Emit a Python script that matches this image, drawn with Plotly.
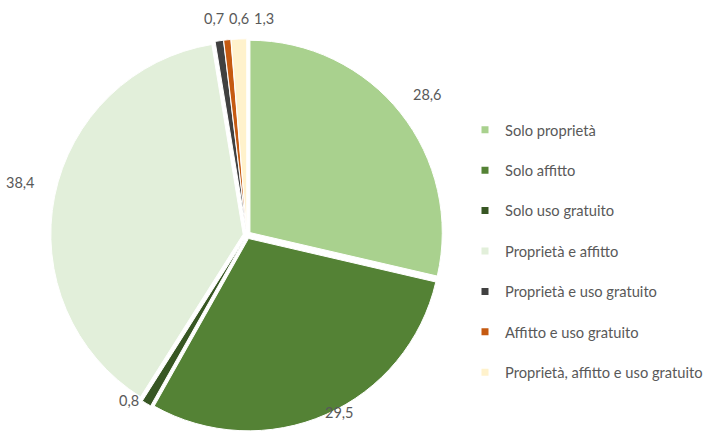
import math
import plotly.graph_objects as go

# dati
categorie = [
    "Solo proprietà",
    "Solo affitto",
    "Solo uso gratuito",
    "Proprietà e affitto",
    "Proprietà e uso gratuito",
    "Affitto e uso gratuito",
    "Proprietà, affitto e uso gratuito",
]
valori = [28.6, 29.5, 0.8, 38.4, 0.7, 0.6, 1.3]
colori = ["#a9d18e", "#548235", "#375623", "#e2efda", "#404040", "#c55a11", "#fff2cc"]

W, H = 708, 446
FONT = "Lato, Open Sans, sans-serif"
GRIGIO = "#595959"
PULL = 0.02
DOM_X = [0.072, 0.6285]
DOM_Y = [0.0314, 0.9148]

fig = go.Figure()

fig.add_trace(go.Pie(
    labels=categorie, values=valori,
    marker=dict(colors=colori, line=dict(color="white", width=1)),
    sort=False, direction="clockwise", rotation=0,
    pull=PULL, textinfo="none",
    domain=dict(x=DOM_X, y=DOM_Y),
    showlegend=False, hoverinfo="label+value",
))

# etichette dei valori (stile Excel "estremità esterna", senza linee guida)
cx = (DOM_X[0] + DOM_X[1]) / 2 * W
cy = (1 - (DOM_Y[0] + DOM_Y[1]) / 2) * H
r = min((DOM_X[1] - DOM_X[0]) * W, (DOM_Y[1] - DOM_Y[0]) * H) / 2 / (1 + PULL)
RX, RY, DY = r * 1.2, r * 1.07, -r * 0.06

tot = sum(valori)
cum = 0
pos = []
for v in valori:
    ang = 2 * math.pi * (cum + v / 2) / tot
    cum += v
    pos.append([cx + RX * math.sin(ang), cy + DY - RY * math.cos(ang)])

# evita sovrapposizioni tra etichette vicine (fette piccole in alto)
for i in range(1, len(pos)):
    qx, qy = pos[i - 1]
    if abs(pos[i][1] - qy) < 14 and abs(pos[i][0] - qx) < 25:
        pos[i][0] = qx + 25
        pos[i][1] = qy

for v, (px, py) in zip(valori, pos):
    fig.add_annotation(
        x=px / W, y=1 - py / H, xref="paper", yref="paper",
        text=f"{v:.1f}".replace(".", ","), showarrow=False,
        xanchor="center", yanchor="middle",
        font=dict(size=14.5, color=GRIGIO, family=FONT),
    )

# legenda con voci distanziate
for nome, col in zip(categorie, colori):
    fig.add_trace(go.Scatter(
        x=[None], y=[None], mode="markers", name=nome, legendgroup=nome,
        marker=dict(symbol="square", size=7, color=col),
    ))

fig.update_layout(
    width=W, height=H,
    margin=dict(l=0, r=0, t=0, b=0),
    paper_bgcolor="white", plot_bgcolor="white",
    xaxis=dict(visible=False), yaxis=dict(visible=False),
    legend=dict(
        x=0.6596, y=0.745, xanchor="left", yanchor="top",
        font=dict(size=14.7, color=GRIGIO, family=FONT),
        tracegroupgap=18.3, itemwidth=30,
    ),
)

# niente margine della pagina attorno al grafico
fig.write_html(
    "out.html",
    config={"displayModeBar": False},
    post_script="document.body.style.margin='0px';",
)
